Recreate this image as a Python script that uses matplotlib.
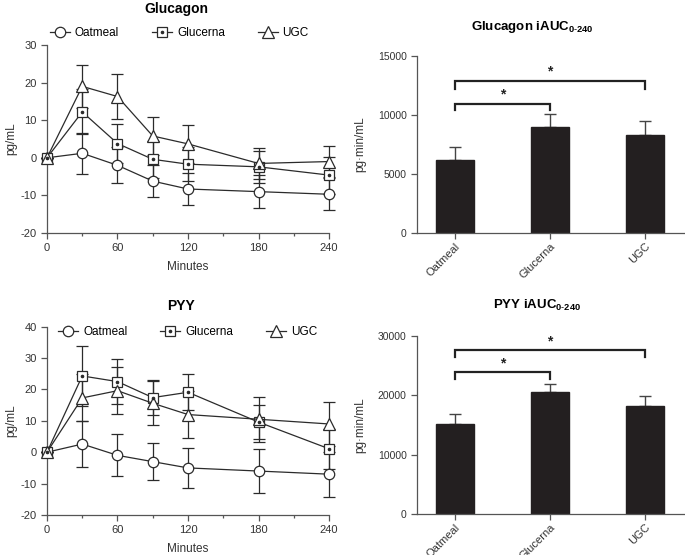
import matplotlib
matplotlib.use("Agg")
import matplotlib.pyplot as plt
from matplotlib.lines import Line2D
from matplotlib.legend_handler import HandlerTuple

plt.rcParams['font.family'] = ['Liberation Sans', 'DejaVu Sans']
plt.rcParams['mathtext.fontset'] = 'custom'
plt.rcParams['mathtext.bf'] = 'Liberation Sans:bold'
plt.rcParams['mathtext.rm'] = 'Liberation Sans'
plt.rcParams['axes.unicode_minus'] = False

# time course data
minutes = [0, 30, 60, 90, 120, 180, 240]
series_names = ["Oatmeal", "Glucerna", "UGC"]

glucagon_oat = [0, 1.2, -2.0, -6.2, -8.3, -9.0, -9.7]
glucagon_oat_err = [0, 5.5, 4.8, 4.2, 4.2, 4.3, 4.3]
glucagon_glu = [0, 12.2, 3.8, -0.4, -1.7, -2.4, -4.6]
glucagon_glu_err = [0, 6.0, 5.2, 5.0, 4.6, 4.3, 4.9]
glucagon_ugc = [0, 19.0, 16.3, 5.8, 3.7, -1.5, -1.0]
glucagon_ugc_err = [0, 5.8, 6.0, 5.1, 5.0, 4.2, 4.2]

pyy_oat = [0, 2.6, -1.0, -3.0, -5.0, -6.0, -7.0]
pyy_oat_err = [0, 7.2, 6.7, 6.0, 6.5, 6.9, 7.2]
pyy_glu = [0, 24.3, 22.5, 17.4, 19.1, 9.6, 1.1]
pyy_glu_err = [0, 9.6, 7.2, 5.5, 5.7, 5.4, 6.3]
pyy_ugc = [0, 17.3, 19.6, 15.6, 12.0, 10.5, 9.0]
pyy_ugc_err = [0, 7.5, 7.4, 7.0, 7.5, 7.2, 7.0]

# iAUC data
groups = ["Oatmeal", "Glucerna", "UGC"]
glucagon_auc = [6200, 8950, 8300]
glucagon_auc_err = [1100, 1150, 1200]
pyy_auc = [15200, 20500, 18200]
pyy_auc_err = [1600, 1400, 1700]

LINE = "#2b2b2b"
AXC = "#555555"
BAR = "#231f20"
MS = 7.5


def style_axes(ax):
    for s in ["top", "right"]:
        ax.spines[s].set_visible(False)
    for s in ["left", "bottom"]:
        ax.spines[s].set_color(AXC)
        ax.spines[s].set_linewidth(0.9)
    ax.tick_params(colors=AXC, labelcolor="#333333", labelsize=8,
                   length=4, width=0.9)


def line_panel(ax, oat, oat_e, glu, glu_e, ugc, ugc_e, ylim, yticks):
    kw = dict(color=LINE, lw=0.9, capsize=4, elinewidth=0.9,
              capthick=0.9, clip_on=False, markerfacecolor="white",
              markeredgecolor=LINE, markeredgewidth=0.9, zorder=3)
    ax.errorbar(minutes, oat, yerr=oat_e, marker="o", ms=MS, **kw)
    ax.errorbar(minutes, glu, yerr=glu_e, marker="s", ms=MS - 0.8, **kw)
    ax.plot(minutes, glu, ls="none", marker="o", ms=1.6, color=LINE,
            clip_on=False, zorder=5)
    ax.errorbar(minutes, ugc, yerr=ugc_e, marker="^", ms=MS + 0.5, **kw)
    ax.set_xlim(0, 240)
    ax.set_ylim(*ylim)
    ax.set_xticks([0, 60, 120, 180, 240])
    ax.set_xticks([30, 90, 150, 210], minor=True)
    ax.tick_params(axis="x", which="minor", length=2.5, width=0.9, colors=AXC)
    ax.set_yticks(yticks)
    ax.set_xlabel("Minutes", fontsize=8.5, color="#333333", labelpad=5.5)
    ax.set_ylabel("pg/mL", fontsize=8.5, color="#333333", labelpad=2)
    style_axes(ax)


def bar_panel(ax, vals, errs, ymax, yticks, brackets):
    x = list(range(len(groups)))
    ax.bar(x, vals, width=0.4, color=BAR, edgecolor=BAR, zorder=2)
    ax.errorbar(x, vals, yerr=[[0] * len(errs), errs], fmt="none",
                ecolor="#444444", elinewidth=1.0, capsize=4, capthick=1.0,
                zorder=1)
    ax.set_xlim(-0.4, 2.42)
    ax.set_ylim(0, ymax)
    ax.set_yticks(yticks)
    ax.set_xticks(x)
    ax.set_xticklabels(groups, rotation=45, ha="right", rotation_mode="anchor",
                       fontsize=7)
    ax.set_ylabel("pg·min/mL", fontsize=8.5, color="#333333", labelpad=8)
    style_axes(ax)
    ax.tick_params(axis="y", labelsize=7.5)
    ax.tick_params(axis="x", pad=2)
    for (i, j, top, low) in brackets:
        ax.plot([i, i, j, j], [low, top, top, low], color="#222222", lw=1.6,
                solid_joinstyle="miter", zorder=3)
        ax.text((i + j) / 2, top + ymax * 0.012, "*", ha="center", va="bottom",
                fontsize=10, fontweight="bold", color="#222222")


# legend proxies (marker on a short line, no error bars)
mk = dict(color=LINE, lw=0.9, markerfacecolor="white", markeredgecolor=LINE,
          markeredgewidth=0.9)
h_oat = Line2D([], [], marker="o", ms=MS, **mk)
h_glu = (Line2D([], [], marker="s", ms=MS - 0.8, **mk),
         Line2D([], [], ls="none", marker="o", ms=1.6, color=LINE))
h_ugc = Line2D([], [], marker="^", ms=MS + 0.5, **mk)
handles = [h_oat, h_glu, h_ugc]

fig = plt.figure(figsize=(6.85, 5.55), dpi=100)

ax1 = fig.add_axes([0.0686, 0.5802, 0.4117, 0.3387])
line_panel(ax1, glucagon_oat, glucagon_oat_err, glucagon_glu,
           glucagon_glu_err, glucagon_ugc, glucagon_ugc_err,
           (-20, 30), [-20, -10, 0, 10, 20, 30])
fig.text(0.258, 0.997, "Glucagon", ha="center", va="top", fontsize=10,
         fontweight="bold")

ax3 = fig.add_axes([0.0686, 0.0721, 0.4117, 0.3393])
line_panel(ax3, pyy_oat, pyy_oat_err, pyy_glu, pyy_glu_err, pyy_ugc,
           pyy_ugc_err, (-20, 40), [-20, -10, 0, 10, 20, 30, 40])
fig.text(0.264, 0.449, "PYY", ha="center", va="center", fontsize=10,
         fontweight="bold")

for xpos, ypos in [(0.073, 0.9405), (0.085, 0.4023)]:
    fig.legend(handles, series_names, loc="center left",
               bbox_to_anchor=(xpos, ypos), ncol=3, frameon=False,
               fontsize=8.5, handlelength=1.7, handletextpad=0.4,
               columnspacing=2.8, borderpad=0, borderaxespad=0,
               handler_map={tuple: HandlerTuple(ndivide=1)})

ax2 = fig.add_axes([0.6088, 0.5802, 0.3912, 0.3189])
bar_panel(ax2, glucagon_auc, glucagon_auc_err, 15000, [0, 5000, 10000, 15000],
          [(0, 1, 10930, 10420), (0, 2, 12910, 12200)])
fig.text(0.777, 0.951, r"Glucagon iAUC$_{\mathbf{0\text{-}240}}$", ha="center",
         va="center", fontsize=9.5, fontweight="bold")

ax4 = fig.add_axes([0.6088, 0.0739, 0.3912, 0.3207])
bar_panel(ax4, pyy_auc, pyy_auc_err, 30000, [0, 10000, 20000, 30000],
          [(0, 1, 23900, 22700), (0, 2, 27600, 26400)])
fig.text(0.784, 0.450, r"PYY iAUC$_{\mathbf{0\text{-}240}}$", ha="center",
         va="center", fontsize=9.5, fontweight="bold")

fig.savefig("out.png", dpi=100)
